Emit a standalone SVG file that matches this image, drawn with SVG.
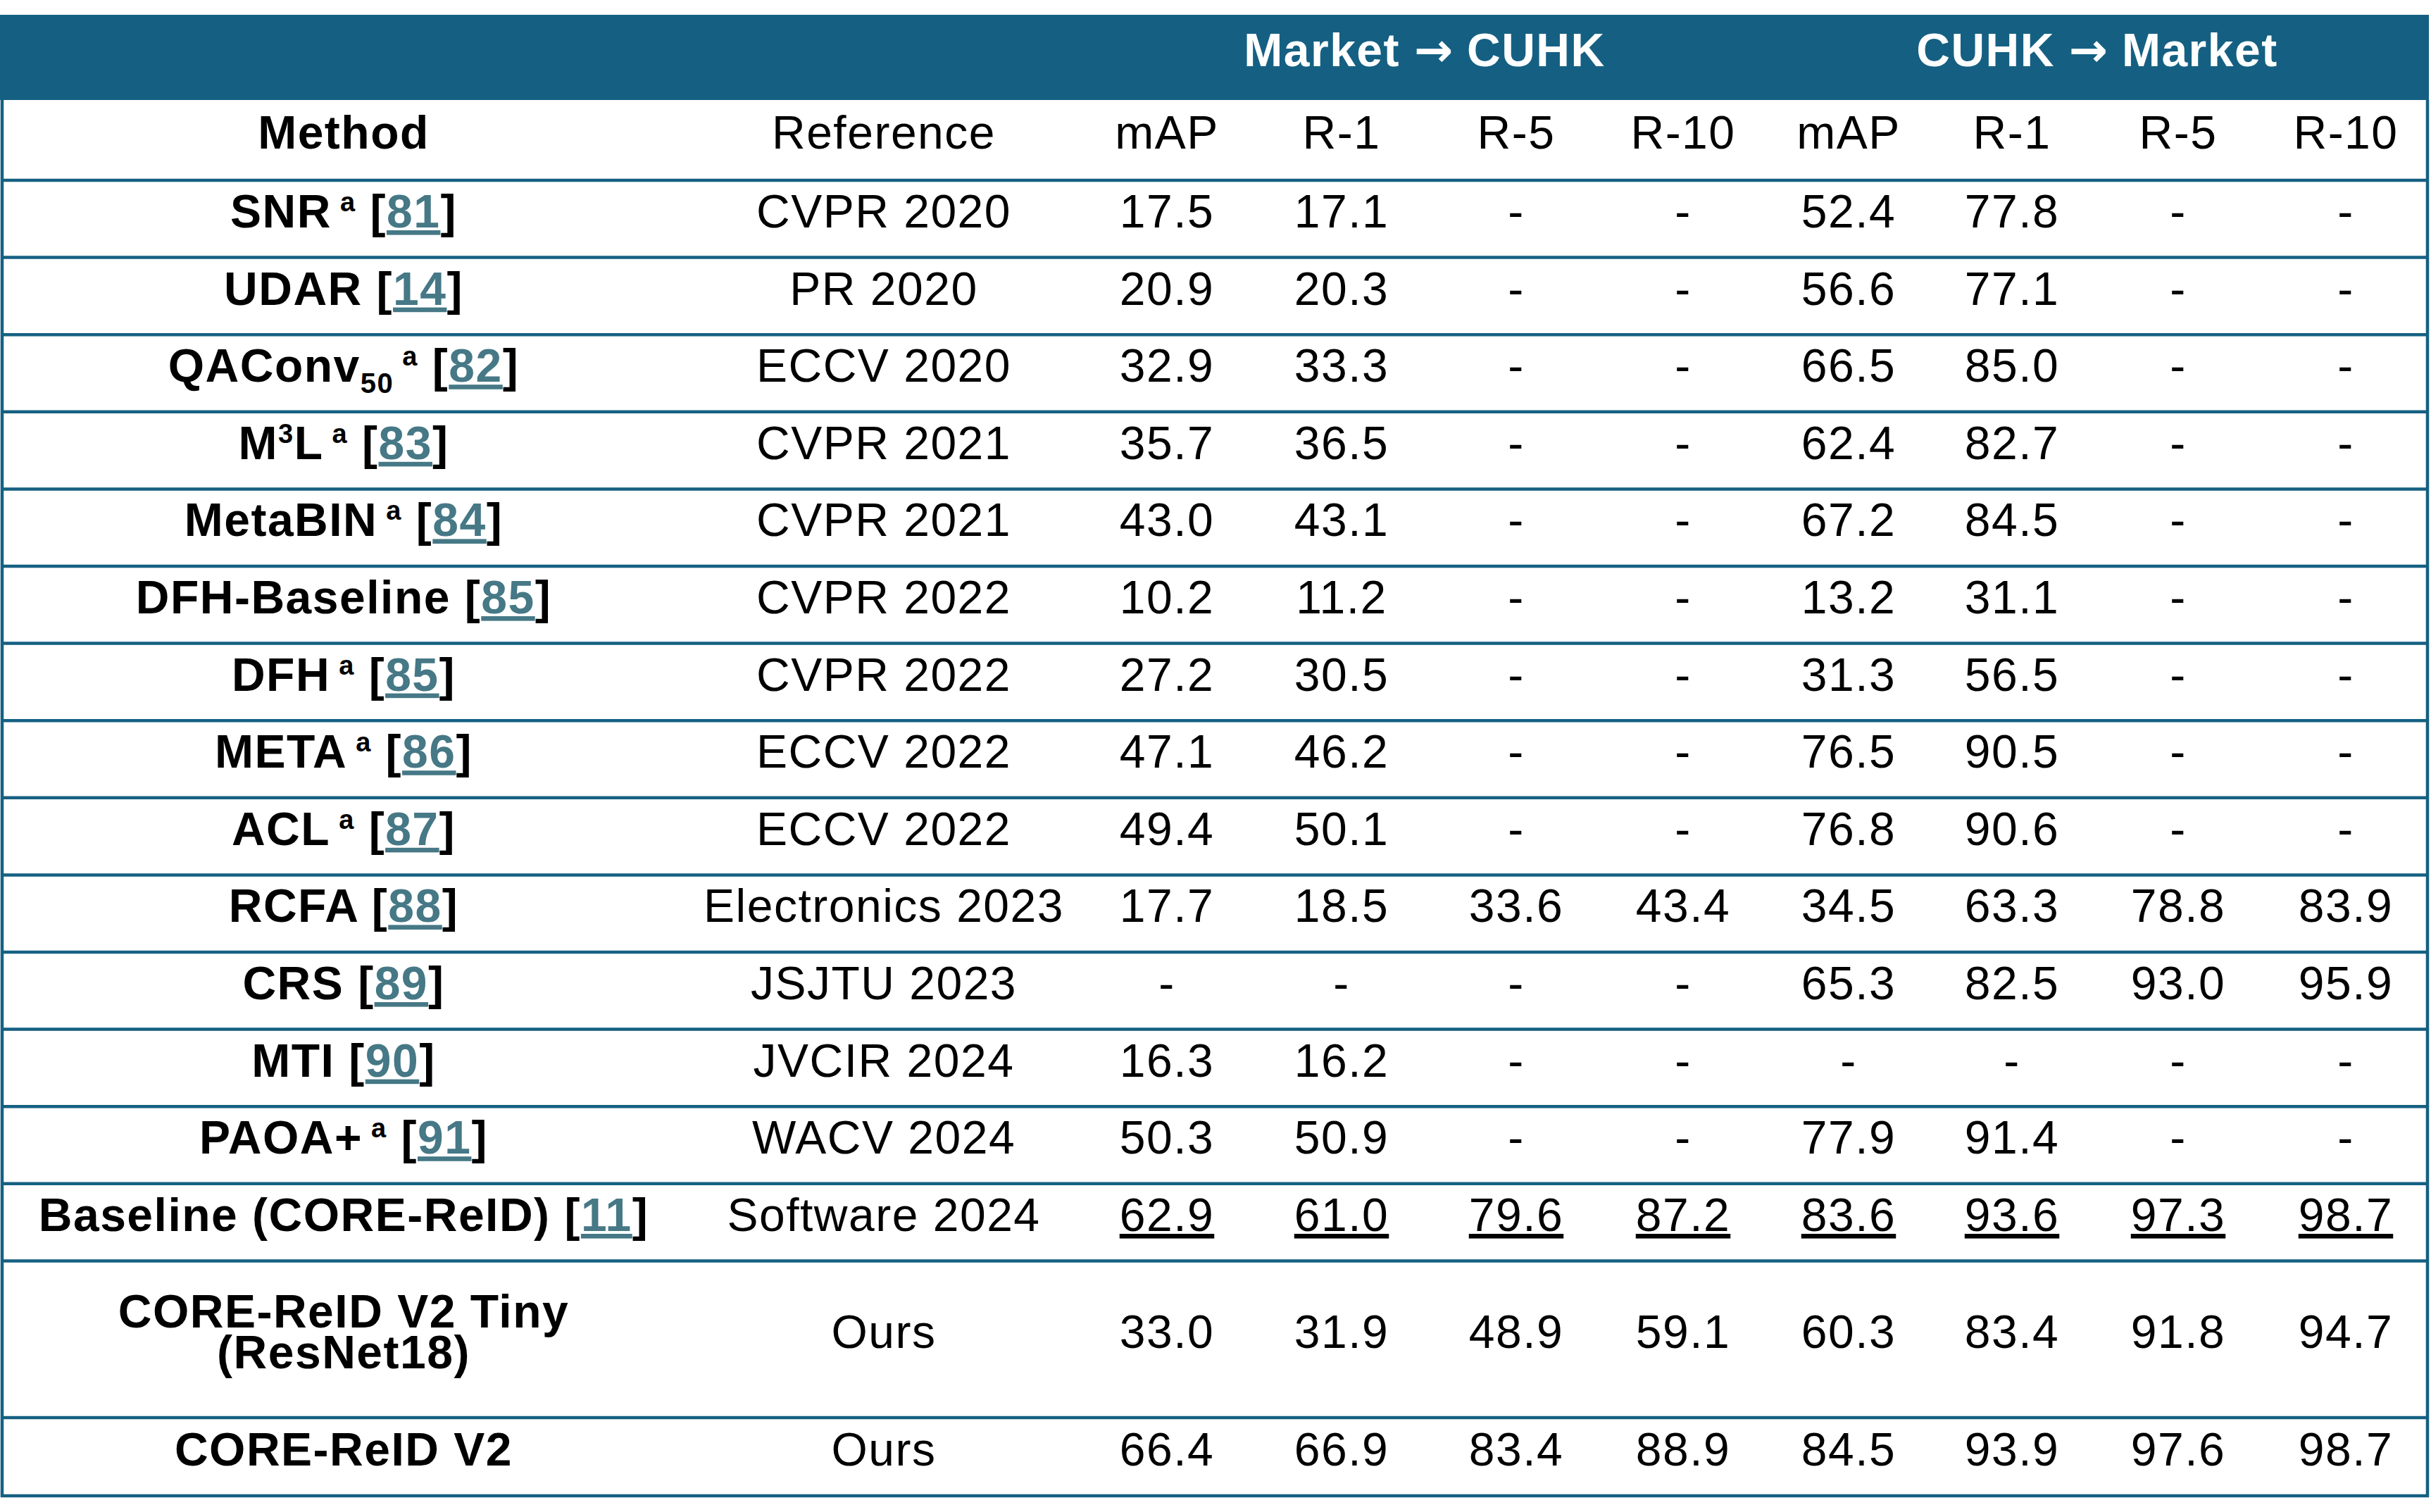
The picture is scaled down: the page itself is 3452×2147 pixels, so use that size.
<svg xmlns="http://www.w3.org/2000/svg" width="3452" height="2147" viewBox="0 0 3452 2147">
<style>
text{font-family:"Liberation Sans",Arial,sans-serif;font-size:66px;letter-spacing:1.5px;text-anchor:middle;fill:#000}
.b{font-weight:bold}
.hd{fill:#fff;font-weight:bold}
.ar{font-family:"DejaVu Sans",sans-serif;font-weight:bold;letter-spacing:0}
.sup{font-size:38px}
.sub{font-size:40px}
.lnk{fill:#467886;text-decoration:underline;text-decoration-thickness:2px;text-underline-offset:5px}
.u{text-decoration:underline;text-decoration-thickness:2px;text-underline-offset:5px}
.ln{stroke:#156082;stroke-width:4.5;fill:none}
</style>
<rect width="3452" height="2147" fill="#fff"/>
<g id="header-band">
<rect x="0" y="21" width="3449" height="121" fill="#156082"/>
<text class="hd" x="2023" y="94">Market <tspan class="ar">→</tspan> CUHK</text>
<text class="hd" x="2978" y="94">CUHK <tspan class="ar">→</tspan> Market</text>
</g>
<g id="lines">
<path class="ln" d="M3 142V2126M3447 142V2126"/>
<path class="ln" d="M1 256H3449M1 365.6H3449M1 475.2H3449M1 584.8H3449M1 694.4H3449M1 804H3449M1 913.6H3449M1 1023.2H3449M1 1132.8H3449M1 1242.4H3449M1 1352H3449M1 1461.6H3449M1 1571.2H3449M1 1680.8H3449M1 1790.4H3449M1 2013H3449M1 2124H3449"/>
</g>
<g id="row-head">
<text class="b" x="488" y="211">Method</text>
<text x="1255" y="211">Reference</text>
<text x="1657" y="211">mAP</text><text x="1905" y="211">R-1</text><text x="2153" y="211">R-5</text><text x="2390" y="211">R-10</text>
<text x="2625" y="211">mAP</text><text x="2857" y="211">R-1</text><text x="3093" y="211">R-5</text><text x="3331" y="211">R-10</text>
</g>
<g id="row-snr">
<text class="b" x="488" y="323">SNR<tspan class="sup" dy="-23"> a</tspan><tspan dy="23"> [</tspan><tspan class="lnk">81</tspan>]</text>
<text x="1255" y="323">CVPR 2020</text>
<text x="1657" y="323">17.5</text><text x="1905" y="323">17.1</text><text x="2153" y="323">-</text><text x="2390" y="323">-</text>
<text x="2625" y="323">52.4</text><text x="2857" y="323">77.8</text><text x="3093" y="323">-</text><text x="3331" y="323">-</text>
</g>
<g id="row-udar">
<text class="b" x="488" y="432.6">UDAR [<tspan class="lnk">14</tspan>]</text>
<text x="1255" y="432.6">PR 2020</text>
<text x="1657" y="432.6">20.9</text><text x="1905" y="432.6">20.3</text><text x="2153" y="432.6">-</text><text x="2390" y="432.6">-</text>
<text x="2625" y="432.6">56.6</text><text x="2857" y="432.6">77.1</text><text x="3093" y="432.6">-</text><text x="3331" y="432.6">-</text>
</g>
<g id="row-qaconv">
<text class="b" x="488" y="542.2">QAConv<tspan class="sub" dy="16">50</tspan><tspan class="sup" dy="-39"> a</tspan><tspan dy="23"> [</tspan><tspan class="lnk">82</tspan>]</text>
<text x="1255" y="542.2">ECCV 2020</text>
<text x="1657" y="542.2">32.9</text><text x="1905" y="542.2">33.3</text><text x="2153" y="542.2">-</text><text x="2390" y="542.2">-</text>
<text x="2625" y="542.2">66.5</text><text x="2857" y="542.2">85.0</text><text x="3093" y="542.2">-</text><text x="3331" y="542.2">-</text>
</g>
<g id="row-m3l">
<text class="b" x="488" y="651.8">M<tspan class="sup" dy="-23">3</tspan><tspan dy="23">L</tspan><tspan class="sup" dy="-23"> a</tspan><tspan dy="23"> [</tspan><tspan class="lnk">83</tspan>]</text>
<text x="1255" y="651.8">CVPR 2021</text>
<text x="1657" y="651.8">35.7</text><text x="1905" y="651.8">36.5</text><text x="2153" y="651.8">-</text><text x="2390" y="651.8">-</text>
<text x="2625" y="651.8">62.4</text><text x="2857" y="651.8">82.7</text><text x="3093" y="651.8">-</text><text x="3331" y="651.8">-</text>
</g>
<g id="row-metabin">
<text class="b" x="488" y="761.4">MetaBIN<tspan class="sup" dy="-23"> a</tspan><tspan dy="23"> [</tspan><tspan class="lnk">84</tspan>]</text>
<text x="1255" y="761.4">CVPR 2021</text>
<text x="1657" y="761.4">43.0</text><text x="1905" y="761.4">43.1</text><text x="2153" y="761.4">-</text><text x="2390" y="761.4">-</text>
<text x="2625" y="761.4">67.2</text><text x="2857" y="761.4">84.5</text><text x="3093" y="761.4">-</text><text x="3331" y="761.4">-</text>
</g>
<g id="row-dfh-baseline">
<text class="b" x="488" y="871">DFH-Baseline [<tspan class="lnk">85</tspan>]</text>
<text x="1255" y="871">CVPR 2022</text>
<text x="1657" y="871">10.2</text><text x="1905" y="871">11.2</text><text x="2153" y="871">-</text><text x="2390" y="871">-</text>
<text x="2625" y="871">13.2</text><text x="2857" y="871">31.1</text><text x="3093" y="871">-</text><text x="3331" y="871">-</text>
</g>
<g id="row-dfh">
<text class="b" x="488" y="980.6">DFH<tspan class="sup" dy="-23"> a</tspan><tspan dy="23"> [</tspan><tspan class="lnk">85</tspan>]</text>
<text x="1255" y="980.6">CVPR 2022</text>
<text x="1657" y="980.6">27.2</text><text x="1905" y="980.6">30.5</text><text x="2153" y="980.6">-</text><text x="2390" y="980.6">-</text>
<text x="2625" y="980.6">31.3</text><text x="2857" y="980.6">56.5</text><text x="3093" y="980.6">-</text><text x="3331" y="980.6">-</text>
</g>
<g id="row-meta">
<text class="b" x="488" y="1090.2">META<tspan class="sup" dy="-23"> a</tspan><tspan dy="23"> [</tspan><tspan class="lnk">86</tspan>]</text>
<text x="1255" y="1090.2">ECCV 2022</text>
<text x="1657" y="1090.2">47.1</text><text x="1905" y="1090.2">46.2</text><text x="2153" y="1090.2">-</text><text x="2390" y="1090.2">-</text>
<text x="2625" y="1090.2">76.5</text><text x="2857" y="1090.2">90.5</text><text x="3093" y="1090.2">-</text><text x="3331" y="1090.2">-</text>
</g>
<g id="row-acl">
<text class="b" x="488" y="1199.8">ACL<tspan class="sup" dy="-23"> a</tspan><tspan dy="23"> [</tspan><tspan class="lnk">87</tspan>]</text>
<text x="1255" y="1199.8">ECCV 2022</text>
<text x="1657" y="1199.8">49.4</text><text x="1905" y="1199.8">50.1</text><text x="2153" y="1199.8">-</text><text x="2390" y="1199.8">-</text>
<text x="2625" y="1199.8">76.8</text><text x="2857" y="1199.8">90.6</text><text x="3093" y="1199.8">-</text><text x="3331" y="1199.8">-</text>
</g>
<g id="row-rcfa">
<text class="b" x="488" y="1309.4">RCFA [<tspan class="lnk">88</tspan>]</text>
<text x="1255" y="1309.4">Electronics 2023</text>
<text x="1657" y="1309.4">17.7</text><text x="1905" y="1309.4">18.5</text><text x="2153" y="1309.4">33.6</text><text x="2390" y="1309.4">43.4</text>
<text x="2625" y="1309.4">34.5</text><text x="2857" y="1309.4">63.3</text><text x="3093" y="1309.4">78.8</text><text x="3331" y="1309.4">83.9</text>
</g>
<g id="row-crs">
<text class="b" x="488" y="1419">CRS [<tspan class="lnk">89</tspan>]</text>
<text x="1255" y="1419">JSJTU 2023</text>
<text x="1657" y="1419">-</text><text x="1905" y="1419">-</text><text x="2153" y="1419">-</text><text x="2390" y="1419">-</text>
<text x="2625" y="1419">65.3</text><text x="2857" y="1419">82.5</text><text x="3093" y="1419">93.0</text><text x="3331" y="1419">95.9</text>
</g>
<g id="row-mti">
<text class="b" x="488" y="1528.6">MTI [<tspan class="lnk">90</tspan>]</text>
<text x="1255" y="1528.6">JVCIR 2024</text>
<text x="1657" y="1528.6">16.3</text><text x="1905" y="1528.6">16.2</text><text x="2153" y="1528.6">-</text><text x="2390" y="1528.6">-</text>
<text x="2625" y="1528.6">-</text><text x="2857" y="1528.6">-</text><text x="3093" y="1528.6">-</text><text x="3331" y="1528.6">-</text>
</g>
<g id="row-paoa">
<text class="b" x="488" y="1638.2">PAOA+<tspan class="sup" dy="-23"> a</tspan><tspan dy="23"> [</tspan><tspan class="lnk">91</tspan>]</text>
<text x="1255" y="1638.2">WACV 2024</text>
<text x="1657" y="1638.2">50.3</text><text x="1905" y="1638.2">50.9</text><text x="2153" y="1638.2">-</text><text x="2390" y="1638.2">-</text>
<text x="2625" y="1638.2">77.9</text><text x="2857" y="1638.2">91.4</text><text x="3093" y="1638.2">-</text><text x="3331" y="1638.2">-</text>
</g>
<g id="row-baseline">
<text class="b" x="488" y="1748">Baseline (CORE-ReID) [<tspan class="lnk">11</tspan>]</text>
<text x="1255" y="1748">Software 2024</text>
<text x="1657" y="1748"><tspan class="u">62.9</tspan></text><text x="1905" y="1748"><tspan class="u">61.0</tspan></text><text x="2153" y="1748"><tspan class="u">79.6</tspan></text><text x="2390" y="1748"><tspan class="u">87.2</tspan></text>
<text x="2625" y="1748"><tspan class="u">83.6</tspan></text><text x="2857" y="1748"><tspan class="u">93.6</tspan></text><text x="3093" y="1748"><tspan class="u">97.3</tspan></text><text x="3331" y="1748"><tspan class="u">98.7</tspan></text>
</g>
<g id="row-v2-tiny">
<text class="b" x="488" y="1885">CORE-ReID V2 Tiny<tspan x="488" dy="58">(ResNet18)</tspan></text>
<text x="1255" y="1914">Ours</text>
<text x="1657" y="1914">33.0</text><text x="1905" y="1914">31.9</text><text x="2153" y="1914">48.9</text><text x="2390" y="1914">59.1</text>
<text x="2625" y="1914">60.3</text><text x="2857" y="1914">83.4</text><text x="3093" y="1914">91.8</text><text x="3331" y="1914">94.7</text>
</g>
<g id="row-v2">
<text class="b" x="488" y="2081">CORE-ReID V2</text>
<text x="1255" y="2081">Ours</text>
<text x="1657" y="2081">66.4</text><text x="1905" y="2081">66.9</text><text x="2153" y="2081">83.4</text><text x="2390" y="2081">88.9</text>
<text x="2625" y="2081">84.5</text><text x="2857" y="2081">93.9</text><text x="3093" y="2081">97.6</text><text x="3331" y="2081">98.7</text>
</g>
</svg>
